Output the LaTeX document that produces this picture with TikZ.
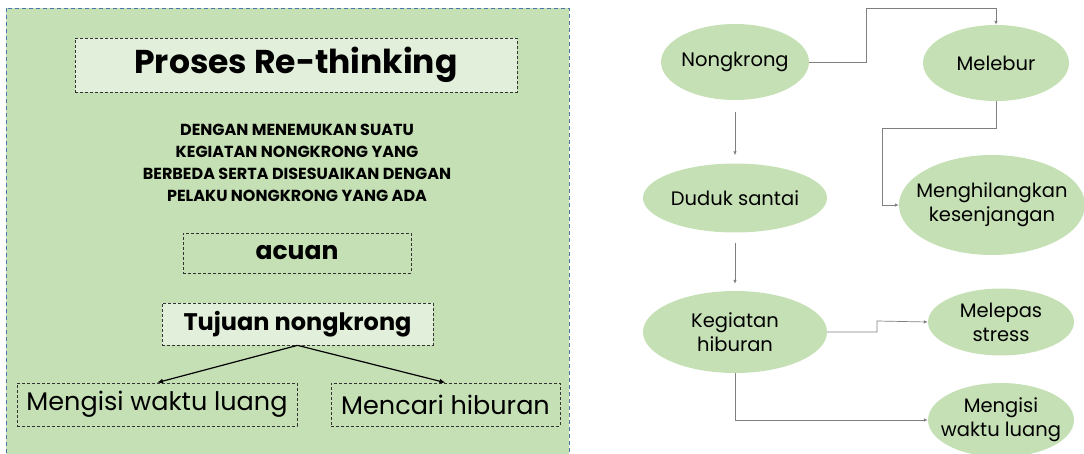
\documentclass[tikz,border=0pt]{standalone}
\usepackage{fontspec}
\setmainfont{Poppins}
\usetikzlibrary{arrows.meta,shapes.geometric}
\definecolor{panel}{HTML}{C5E0B4}
\definecolor{light}{HTML}{E2EFDA}
\definecolor{edge}{HTML}{4A76A8}
\definecolor{conn}{HTML}{7F7F7F}
\begin{document}
\begin{tikzpicture}[x=1pt,y=-1pt,
  dbox/.style={draw=black!80,dashed,dash pattern=on 3pt off 2pt,line width=0.7pt,inner sep=0pt},
  oval/.style={ellipse,fill=panel,inner sep=0pt},
  ovaltext/.style={align=center,inner sep=0pt,font=\fontsize{19.5}{24}\selectfont},
  link/.style={draw=conn,line width=0.7pt,-{Latex[length=4pt,width=3.5pt]}},
  tree/.style={draw=black,line width=1.2pt,-{Latex[length=6pt,width=5pt]}}]
\useasboundingbox (0,0) rectangle (1084,454);
\begin{scope}
\clip (0,0) rectangle (1084,454);
\draw[fill=panel,draw=edge,dashed,dash pattern=on 4pt off 3pt,line width=0.9pt] (6,8) rectangle (569,470);
\end{scope}
% left panel
\node[dbox,fill=light,minimum width=442pt,minimum height=54pt,font=\bfseries\fontsize{33}{36}\selectfont] (title) at (296,65) {Proses Re-thinking};
\node[align=center,font=\bfseries\fontsize{16}{22}\selectfont] (desc) at (297,163) {DENGAN MENEMUKAN SUATU\\KEGIATAN NONGKRONG YANG\\BERBEDA SERTA DISESUAIKAN DENGAN\\PELAKU NONGKRONG YANG ADA};
\node[dbox,minimum width=228pt,minimum height=40pt,font=\bfseries\fontsize{25}{28}\selectfont] (acuan) at (297,253) {acuan};
\node[dbox,fill=light,minimum width=271pt,minimum height=42pt,font=\bfseries\fontsize{24}{28}\selectfont] (tujuan) at (297.5,324) {Tujuan nongkrong};
\node[dbox,minimum width=280pt,minimum height=43pt,font=\fontsize{25.5}{28}\selectfont] (isi) at (157,404.5) {Mengisi waktu luang};
\node[dbox,minimum width=229pt,minimum height=43pt,font=\fontsize{25.5}{28}\selectfont] (cari) at (445.5,404.5) {Mencari hiburan};
\draw[tree] (tujuan.south) -- (isi.north);
\draw[tree] (tujuan.south) -- (cari.north);
% right side
\node[oval,minimum width=148pt,minimum height=76pt] (nong) at (735,62) {};
\node[ovaltext] (nongt) at (nong) {Nongkrong};
\node[oval,minimum width=146pt,minimum height=76pt] (mele) at (996,63) {};
\node[ovaltext] (melet) at (mele) {Melebur};
\node[oval,minimum width=184pt,minimum height=69pt] (dud) at (735,198) {};
\node[ovaltext] (dudt) at (dud) {Duduk santai};
\node[oval,minimum width=186pt,minimum height=100pt] (meng) at (992,205) {};
\node[ovaltext] (mengt) at (meng) {Menghilangkan\\kesenjangan};
\node[oval,minimum width=184pt,minimum height=82pt] (keg) at (735,332) {};
\node[ovaltext] (kegt) at (keg) {Kegiatan\\hiburan};
\node[oval,minimum width=146pt,minimum height=67pt] (lep) at (1001,322) {};
\node[ovaltext] (lept) at (lep) {Melepas\\stress};
\node[oval,minimum width=146pt,minimum height=74pt] (wak) at (1001,420) {};
\node[ovaltext] (wakt) at (wak) {Mengisi\\waktu luang};
\draw[link] (nong.east) -| (866,8) -| (mele.north);
\draw[link,shorten <=12pt,shorten >=8pt] (nong.south) -- (dud.north);
\draw[link] (mele.south) |- (882,128) |- (meng.west);
\draw[link,shorten <=10pt,shorten >=7pt] (dud.south) -- (keg.north);
\draw[link] (keg.east) -| (877,321) -- (lep.west);
\draw[link] (keg.south) |- (wak.west);
\end{tikzpicture}
\end{document}
